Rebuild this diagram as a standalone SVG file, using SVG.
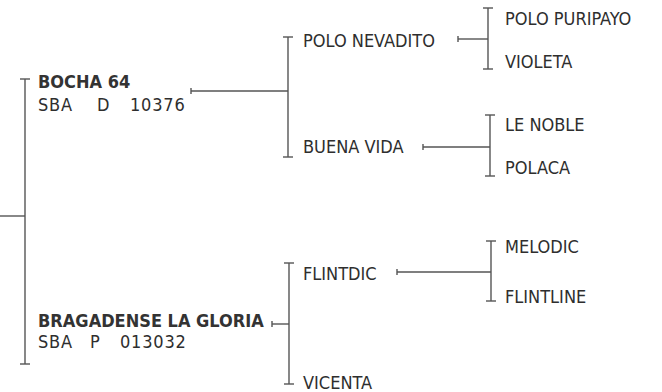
<svg xmlns="http://www.w3.org/2000/svg" width="662" height="392" viewBox="0 0 662 392">
<style>
.t{font-family:"DejaVu Sans Condensed","DejaVu Sans",sans-serif;font-stretch:condensed;font-size:18px;fill:#2e2e2e}
.b{font-weight:bold;fill:#333333}
.s{letter-spacing:0.8px}
.c line{stroke:#555555;stroke-width:1.4;fill:none}
</style>
<rect width="662" height="392" fill="#ffffff"/>
<g class="c" id="connectors">
<line x1="0" y1="216" x2="25" y2="216"/>
<line x1="25" y1="79" x2="25" y2="364"/>
<line x1="20" y1="79" x2="30" y2="79"/>
<line x1="20" y1="364" x2="30" y2="364"/>
<line x1="191" y1="88" x2="191" y2="94"/>
<line x1="191" y1="91" x2="288" y2="91"/>
<line x1="288" y1="37" x2="288" y2="157"/>
<line x1="283" y1="37" x2="293" y2="37"/>
<line x1="283" y1="157" x2="293" y2="157"/>
<line x1="272" y1="321" x2="272" y2="327"/>
<line x1="272" y1="324" x2="289" y2="324"/>
<line x1="289" y1="263" x2="289" y2="384"/>
<line x1="284" y1="263" x2="294" y2="263"/>
<line x1="284" y1="384" x2="294" y2="384"/>
<line x1="458" y1="36" x2="458" y2="42"/>
<line x1="458" y1="39" x2="488" y2="39"/>
<line x1="488" y1="8" x2="488" y2="69"/>
<line x1="483" y1="8" x2="493" y2="8"/>
<line x1="483" y1="69" x2="493" y2="69"/>
<line x1="423" y1="144" x2="423" y2="150"/>
<line x1="423" y1="147" x2="490" y2="147"/>
<line x1="490" y1="115" x2="490" y2="176"/>
<line x1="485" y1="115" x2="495" y2="115"/>
<line x1="485" y1="176" x2="495" y2="176"/>
<line x1="397" y1="269" x2="397" y2="275"/>
<line x1="397" y1="272" x2="491" y2="272"/>
<line x1="491" y1="241" x2="491" y2="301"/>
<line x1="486" y1="241" x2="496" y2="241"/>
<line x1="486" y1="301" x2="496" y2="301"/>
</g>
<g id="bocha64">
<text class="t b" x="38" y="88">BOCHA 64</text>
<text class="t s" y="111"><tspan x="38">SBA</tspan><tspan x="97">D</tspan><tspan x="130">10376</tspan></text>
</g>
<g id="bragadense">
<text class="t b" x="38" y="327">BRAGADENSE LA GLORIA</text>
<text class="t s" y="348"><tspan x="38">SBA</tspan><tspan x="90">P</tspan><tspan x="120">013032</tspan></text>
</g>
<g id="polo_nevadito"><text class="t" x="303" y="47">POLO NEVADITO</text></g>
<g id="buena_vida"><text class="t" x="303" y="153">BUENA VIDA</text></g>
<g id="flintdic"><text class="t" x="303" y="280">FLINTDIC</text></g>
<g id="vicenta"><text class="t" x="303" y="389">VICENTA</text></g>
<g id="polo_puripayo"><text class="t" x="505" y="25">POLO PURIPAYO</text></g>
<g id="violeta"><text class="t" x="505" y="68">VIOLETA</text></g>
<g id="le_noble"><text class="t" x="505" y="131">LE NOBLE</text></g>
<g id="polaca"><text class="t" x="505" y="174">POLACA</text></g>
<g id="melodic"><text class="t" x="505" y="253">MELODIC</text></g>
<g id="flintline"><text class="t" x="505" y="303">FLINTLINE</text></g>
</svg>
